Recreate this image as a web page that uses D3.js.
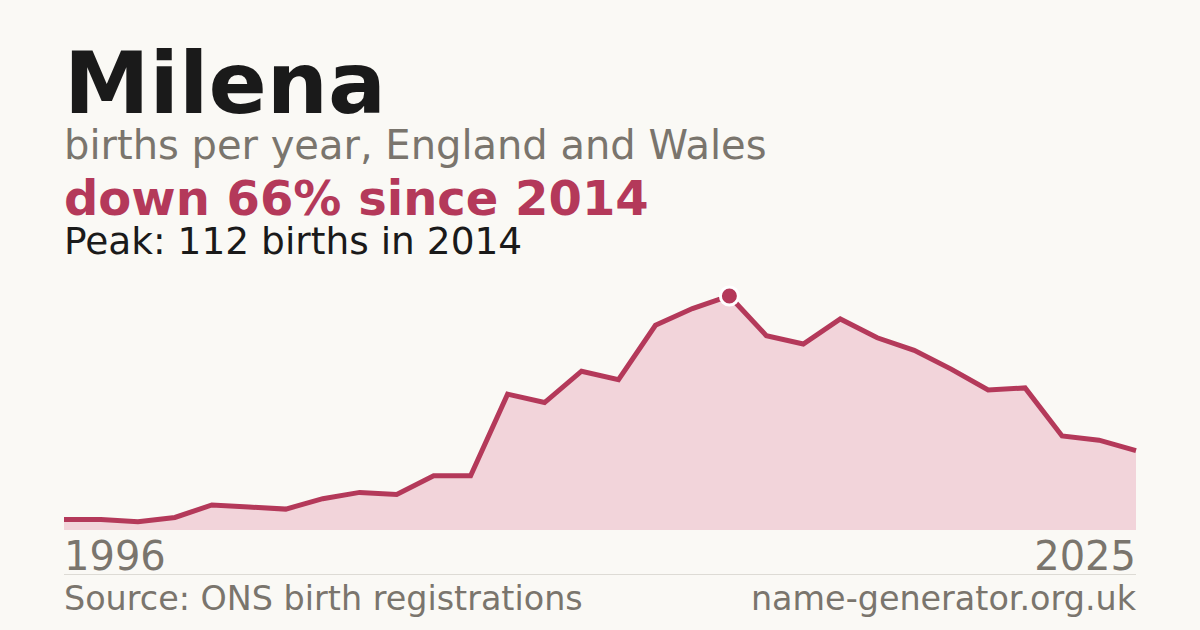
<!DOCTYPE html>
<html><head><meta charset="utf-8">
<script src="https://cdn.jsdelivr.net/npm/d3@7"></script>
<style>
html,body{margin:0;padding:0;background:#faf9f5;}
svg{display:block;font-family:"DejaVu Sans",sans-serif;}
</style></head>
<body>
<svg id="c" width="1200" height="630"></svg>
<script>
const years = [1996,1997,1998,1999,2000,2001,2002,2003,2004,2005,2006,2007,2008,2009,2010,2011,2012,2013,2014,2015,2016,2017,2018,2019,2020,2021,2022,2023,2024,2025];
const births = [5,5,4,6,12,11,10,15,18,17,26,26,65,61,76,72,98,106,112,93,89,101,92,86,77,67,68,45,43,38];
const titleText = "Milena";
const subtitleText = "births per year, England and Wales";
const headlineText = "down 66% since 2014";
const peakText = "Peak: 112 births in 2014";
const sourceText = "Source: ONS birth registrations";
const siteText = "name-generator.org.uk";

const W = 1200, H = 630;
const left = 64, right = 1136, baseY = 530, topY = 296;
const red = "#b4395a", grey = "#7a756d";
const svg = d3.select("#c");
svg.append("rect").attr("width",W).attr("height",H).attr("fill","#faf9f5");

const data = years.map((y,i)=>({year:y, v:births[i]}));
const x = d3.scaleLinear().domain(d3.extent(years)).range([left,right]);
const y = d3.scaleLinear().domain([0, d3.max(births)]).range([baseY, topY]);

svg.append("path").datum(data)
  .attr("d", d3.area().x(d=>x(d.year)).y0(baseY).y1(d=>y(d.v)))
  .attr("fill","#f2d4da");
svg.append("path").datum(data)
  .attr("d", d3.line().x(d=>x(d.year)).y(d=>y(d.v)))
  .attr("fill","none").attr("stroke",red).attr("stroke-width",5).attr("stroke-linejoin","miter");

const peak = data.reduce((a,b)=>b.v>a.v?b:a);
svg.append("circle").attr("cx",x(peak.year)).attr("cy",y(peak.v)).attr("r",9)
  .attr("fill",red).attr("stroke","#ffffff").attr("stroke-width",3);

svg.append("text").attr("x",64).attr("y",113).attr("font-size",86).attr("font-weight","bold").attr("fill","#1a1a1a").text(titleText);
svg.append("text").attr("x",64).attr("y",159).attr("font-size",40).attr("fill",grey).text(subtitleText);
svg.append("text").attr("x",64).attr("y",215).attr("font-size",48).attr("font-weight","bold").attr("fill",red).text(headlineText);
svg.append("text").attr("x",64).attr("y",254).attr("font-size",37.5).attr("fill","#1a1a1a").text(peakText);

svg.append("text").attr("x",left).attr("y",570).attr("font-size",40).attr("fill",grey).text(years[0]);
svg.append("text").attr("x",right).attr("y",570).attr("font-size",40).attr("fill",grey).attr("text-anchor","end").text(years[years.length-1]);
svg.append("line").attr("x1",left).attr("x2",right).attr("y1",574.5).attr("y2",574.5).attr("stroke","#dddbd5").attr("stroke-width",1);
svg.append("text").attr("x",left).attr("y",610).attr("font-size",33.4).attr("fill",grey).text(sourceText);
svg.append("text").attr("x",right).attr("y",610).attr("font-size",33.4).attr("fill",grey).attr("text-anchor","end").text(siteText);
</script>
</body></html>
